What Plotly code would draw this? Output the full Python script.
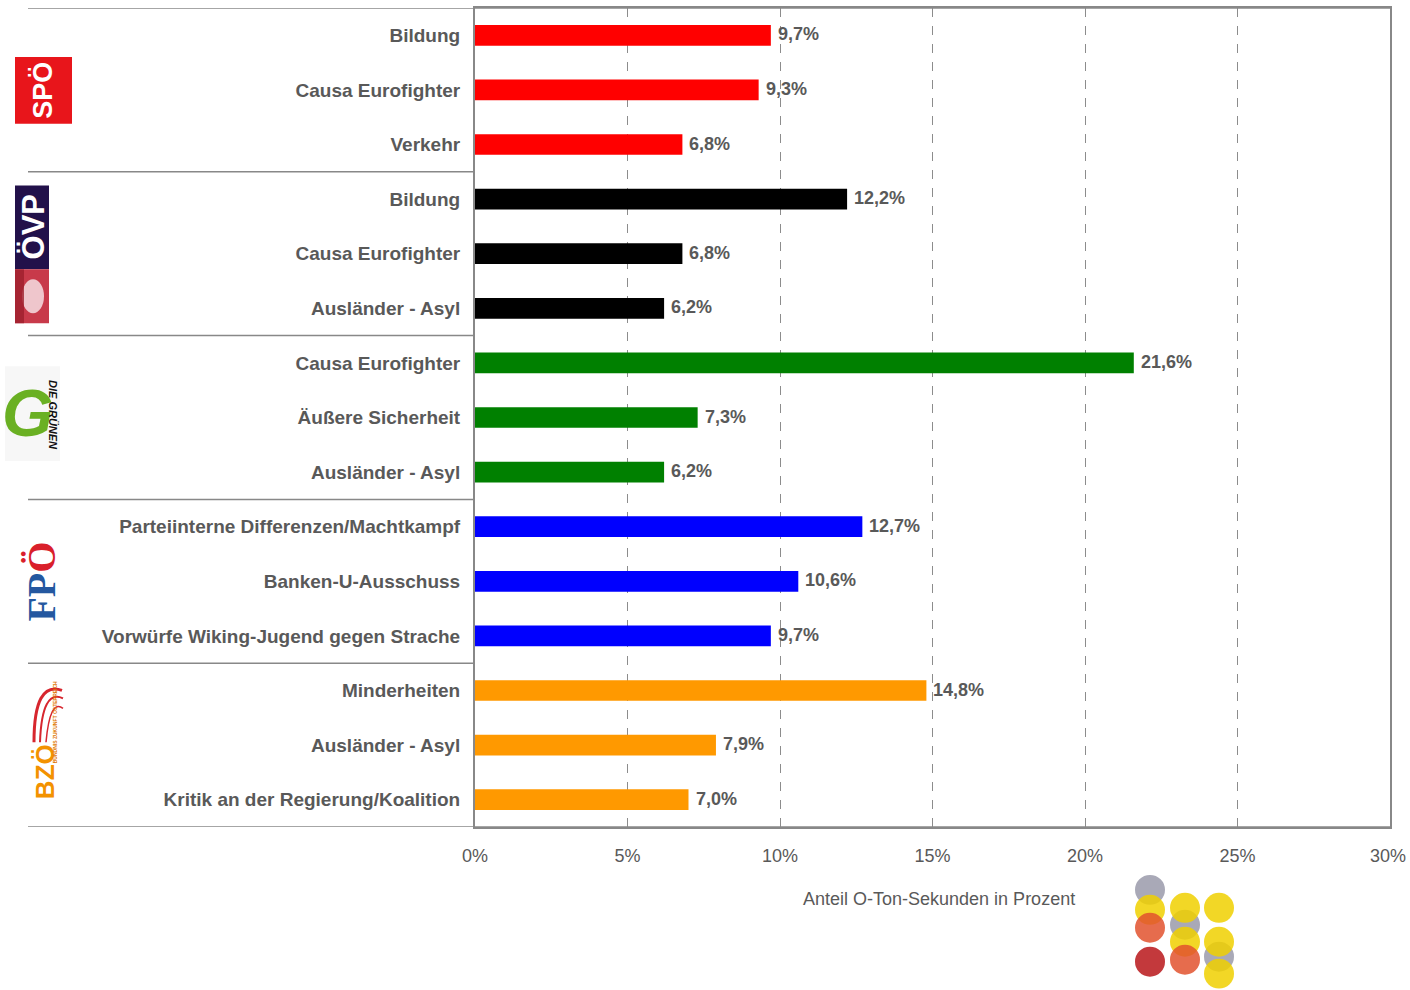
import plotly.graph_objects as go

# ---- data ----
parties = ["SPÖ", "ÖVP", "Grüne", "FPÖ", "BZÖ"]
party_colors = ["#FF0000", "#000000", "#008000", "#0000FF", "#FF9900"]
topics = [
    ["Bildung", "Causa Eurofighter", "Verkehr"],
    ["Bildung", "Causa Eurofighter", "Ausländer - Asyl"],
    ["Causa Eurofighter", "Äußere Sicherheit", "Ausländer - Asyl"],
    ["Parteiinterne Differenzen/Machtkampf", "Banken-U-Ausschuss",
     "Vorwürfe Wiking-Jugend gegen Strache"],
    ["Minderheiten", "Ausländer - Asyl", "Kritik an der Regierung/Koalition"],
]
values = [
    [9.7, 9.3, 6.8],
    [12.2, 6.8, 6.2],
    [21.6, 7.3, 6.2],
    [12.7, 10.6, 9.7],
    [14.8, 7.9, 7.0],
]
x_ticks = [0, 5, 10, 15, 20, 25, 30]
x_title = "Anteil O-Ton-Sekunden in Prozent"

# flatten
labels, vals, cols = [], [], []
for p, c, ts, vs in zip(parties, party_colors, topics, values):
    for t, v in zip(ts, vs):
        labels.append(t)
        vals.append(v)
        cols.append(c)
pos = list(range(len(labels)))

W, H = 1410, 990
ML, MR, MT, MB = 475, 20, 6, 163
PW, PH = W - ML - MR, H - MT - MB


def px(x):
    return (x - ML) / PW


def py(y):
    return (H - MB - y) / PH


GRAY = "#595959"
LINE = "#888888"
FONT = "Liberation Sans, Arial, sans-serif"

fig = go.Figure()
fig.add_trace(go.Bar(
    x=vals, y=pos, orientation="h", width=0.38,
    marker=dict(color=cols, line=dict(width=0)),
    hoverinfo="x+y", showlegend=False,
))

annotations = []
for v, p in zip(vals, pos):
    annotations.append(dict(
        x=v, y=p, xref="x", yref="y", text=f"{v:.1f}%".replace(".", ","),
        showarrow=False, xanchor="left", xshift=5, yshift=1,
        font=dict(family=FONT, size=18, color=GRAY, weight="bold"),
    ))

annotations.append(dict(
    x=px(939), y=py(899), xref="paper", yref="paper", text=x_title,
    showarrow=False, xanchor="center", yanchor="middle",
    font=dict(family=FONT, size=18, color=GRAY),
))

# last tick label drawn as annotation so that it does not overflow the page
tick_text = [f"{t}%" for t in x_ticks]
annotations.append(dict(
    x=x_ticks[-1], y=py(856), xref="x", yref="paper", text=tick_text[-1],
    showarrow=False, xanchor="right", yanchor="middle", xshift=18,
    font=dict(family=FONT, size=18, color=GRAY),
))
tick_text[-1] = ""

shapes = []
# top & bottom lines extending left, group separators
shapes.append(dict(type="line", xref="paper", yref="y", x0=px(28), x1=1,
                   y0=-0.5, y1=-0.5, line=dict(color=LINE, width=1.5)))
shapes.append(dict(type="line", xref="paper", yref="y", x0=px(28), x1=1,
                   y0=len(labels) - 0.5, y1=len(labels) - 0.5,
                   line=dict(color=LINE, width=1.5)))
n = 0
for ts in topics[:-1]:
    n += len(ts)
    shapes.append(dict(type="line", xref="paper", yref="y", x0=px(28), x1=0,
                       y0=n - 0.5, y1=n - 0.5, line=dict(color=LINE, width=1.5)))


def rect(x0, y0, x1, y1, color, opacity=1.0):
    shapes.append(dict(type="rect", xref="paper", yref="paper",
                       x0=px(x0), x1=px(x1), y0=py(y1), y1=py(y0),
                       fillcolor=color, line=dict(width=0), opacity=opacity,
                       layer="above"))


def logo_text(x, y, text, size, color, angle=-90, family=FONT, weight="bold",
              style="normal"):
    annotations.append(dict(
        x=px(x), y=py(y), xref="paper", yref="paper", text=text,
        showarrow=False, textangle=angle, xanchor="center", yanchor="middle",
        font=dict(family=family, size=size, color=color, weight=weight,
                  style=style),
    ))


# SPÖ logo
rect(15, 55, 72, 122, "#E8151B")
logo_text(43, 89, "SPÖ", 27, "white")

# ÖVP logo
rect(15, 184, 49, 268, "#22114A")
logo_text(33, 226, "ÖVP", 31, "white")
rect(15, 268, 49, 322, "#C83A4A")
shapes.append(dict(type="circle", xref="paper", yref="paper",
                   x0=px(22), x1=px(44), y0=py(312), y1=py(278),
                   fillcolor="#F3D6DA", line=dict(width=0), opacity=0.9,
                   layer="above"))
rect(15, 268, 24, 322, "#9E1F2C", 0.8)

# Grüne logo
rect(5, 365, 60, 460, "#F7F7F7")
logo_text(27, 412, "G", 66, "#6AB023", angle=0, style="italic")
logo_text(53, 414, "DIE GRÜNEN", 11, "#111111", angle=90, style="italic")

# FPÖ logo
annotations.append(dict(
    x=px(42), y=py(581), xref="paper", yref="paper",
    text="<span style='color:#2458A0'>FP</span><span style='color:#D9202B'>Ö</span>",
    showarrow=False, textangle=-90, xanchor="center", yanchor="middle",
    font=dict(family="Liberation Serif, serif", size=40, color="#2458A0",
              weight="bold"),
))

# BZÖ logo
logo_text(45, 772, "BZÖ", 26, "#F39200")
logo_text(55, 722, "BÜNDNIS ZUKUNFT ÖSTERREICH", 5, "#E07800")


def arc_path(points):
    s = "M {} {}".format(px(points[0][0]), py(points[0][1]))
    s += " Q {} {} {} {}".format(px(points[1][0]), py(points[1][1]),
                                 px(points[2][0]), py(points[2][1]))
    return s


for (a, b, c, w) in [((34, 742), (34, 680), (62, 690), 3),
                     ((40, 742), (42, 688), (63, 698), 2),
                     ((46, 742), (50, 698), (63, 708), 1.5)]:
    shapes.append(dict(type="path", xref="paper", yref="paper",
                       path=arc_path([a, b, c]),
                       line=dict(color="#D7262E", width=w), layer="above"))

# bottom-right circle logo
circles = [
    (1150, 890, "#9A9AAA"), (1185, 925, "#9A9AAA"), (1219, 957, "#9A9AAA"),
    (1150, 910, "#F0D000"), (1150, 928, "#E2522E"), (1150, 962, "#B8161A"),
    (1185, 908, "#F0D000"), (1185, 942, "#F0D000"), (1185, 960, "#E2522E"),
    (1219, 908, "#F0D000"), (1219, 942, "#F0D000"), (1219, 974, "#F0D000"),
]
for cx, cy, c in circles:
    shapes.append(dict(type="circle", xref="paper", yref="paper",
                       x0=px(cx - 15), x1=px(cx + 15),
                       y0=py(cy + 15), y1=py(cy - 15),
                       fillcolor=c, line=dict(width=0), opacity=0.85,
                       layer="above"))

fig.update_layout(
    width=W, height=H,
    margin=dict(l=ML, r=MR, t=MT, b=MB),
    paper_bgcolor="white", plot_bgcolor="white",
    bargap=0.6,
    annotations=annotations, shapes=shapes,
    font=dict(family=FONT, color=GRAY),
)
fig.update_xaxes(
    range=[0, 30], tickvals=x_ticks,
    ticktext=tick_text,
    tickfont=dict(family=FONT, size=18, color=GRAY),
    ticks="outside", ticklen=11, tickcolor="rgba(0,0,0,0)",
    showgrid=True, gridcolor="#8C8C8C", griddash="dash", gridwidth=1,
    zeroline=False, showline=True, linecolor=LINE, linewidth=2, mirror=True,
    fixedrange=True,
)
fig.update_yaxes(
    range=[len(labels) - 0.5, -0.5], tickvals=pos, ticktext=labels,
    tickfont=dict(family=FONT, size=19, color=GRAY, weight="bold"),
    ticks="outside", ticklen=9, tickcolor="rgba(0,0,0,0)",
    showgrid=False, zeroline=False, showline=True, linecolor=LINE,
    linewidth=2, mirror=True, fixedrange=True,
)

fig.write_html(
    "out.html",
    config={"displayModeBar": False},
    post_script=(
        "document.documentElement.style.overflow='hidden';"
        "document.body.style.overflow='hidden';"
        "document.body.style.margin='0px';document.body.style.padding='0px';"
    ),
)
